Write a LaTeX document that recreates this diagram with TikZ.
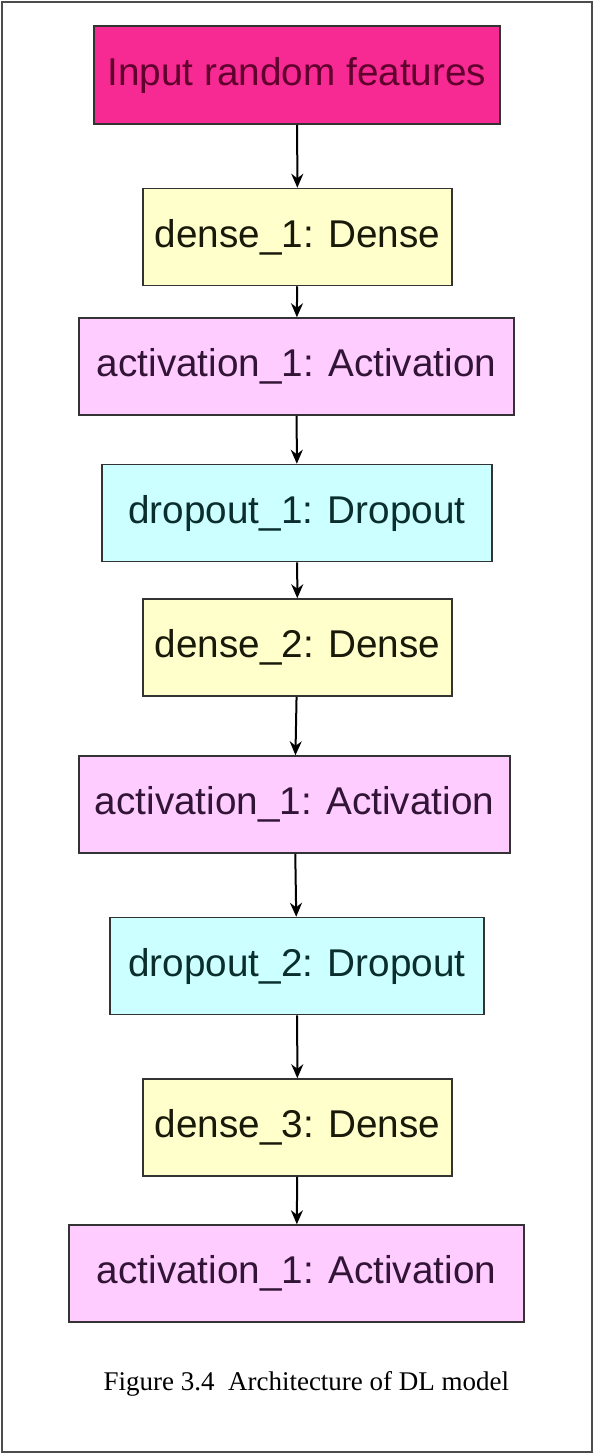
\documentclass[tikz,border=0pt]{standalone}
\usepackage{fontspec}
\setmainfont{Liberation Serif}
\setsansfont{Liberation Sans}
\usetikzlibrary{arrows.meta}
\definecolor{inputfill}{RGB}{247,42,148}
\definecolor{inputtext}{RGB}{95,0,45}
\definecolor{densefill}{RGB}{255,255,204}
\definecolor{densetext}{RGB}{25,25,10}
\definecolor{actfill}{RGB}{255,204,255}
\definecolor{acttext}{RGB}{50,20,55}
\definecolor{dropfill}{RGB}{204,255,255}
\definecolor{droptext}{RGB}{10,45,45}
\begin{document}
\begin{tikzpicture}[x=1pt,y=-1pt,
    layer/.style={draw=black!80,line width=1.5pt,inner sep=0pt,minimum height=97pt,
      font=\sffamily\fontsize{38.7}{46}\selectfont},
    inputbox/.style={layer,fill=inputfill,text=inputtext,minimum height=98pt},
    densebox/.style={layer,fill=densefill,text=densetext,minimum width=309pt},
    actbox/.style={layer,fill=actfill,text=acttext},
    dropbox/.style={layer,fill=dropfill,text=droptext}]
  \useasboundingbox (0,0) rectangle (594,1454);
  \draw[black!70,line width=1.5pt] (2,2) rectangle (592,1452);
  \draw
    (297,75) node[inputbox,minimum width=406pt] (in){Input random features}
    (297.5,237) node[densebox] (dense1){dense\_1: Dense}
    (296.5,366.5) node[actbox,minimum width=435pt] (act1){activation\_1: Activation}
    (297,513) node[dropbox,minimum width=390pt] (drop1){dropout\_1: Dropout}
    (297.5,647.5) node[densebox] (dense2){dense\_2: Dense}
    (294.5,804.5) node[actbox,minimum width=431pt] (act2){activation\_1: Activation}
    (297,966) node[dropbox,minimum width=374pt] (drop2){dropout\_2: Dropout}
    (297.5,1127.5) node[densebox] (dense3){dense\_3: Dense}
    (296.5,1273.5) node[actbox,minimum width=455pt] (act3){activation\_1: Activation};
  \node[anchor=base west,font=\fontsize{27}{33}\selectfont] (caption) at (100,1390)
    {Figure 3.4\ \ Architecture of DL model};
  \begin{scope}[-{Stealth[length=14pt,width=12pt]},line width=2pt]
    \draw (in) to (dense1);
    \draw (dense1) to (act1);
    \draw (act1) to (drop1);
    \draw (drop1) to (dense2);
    \draw (dense2) to (act2);
    \draw (act2) to (drop2);
    \draw (drop2) to (dense3);
    \draw (dense3) to (act3);
  \end{scope}
\end{tikzpicture}
\end{document}
